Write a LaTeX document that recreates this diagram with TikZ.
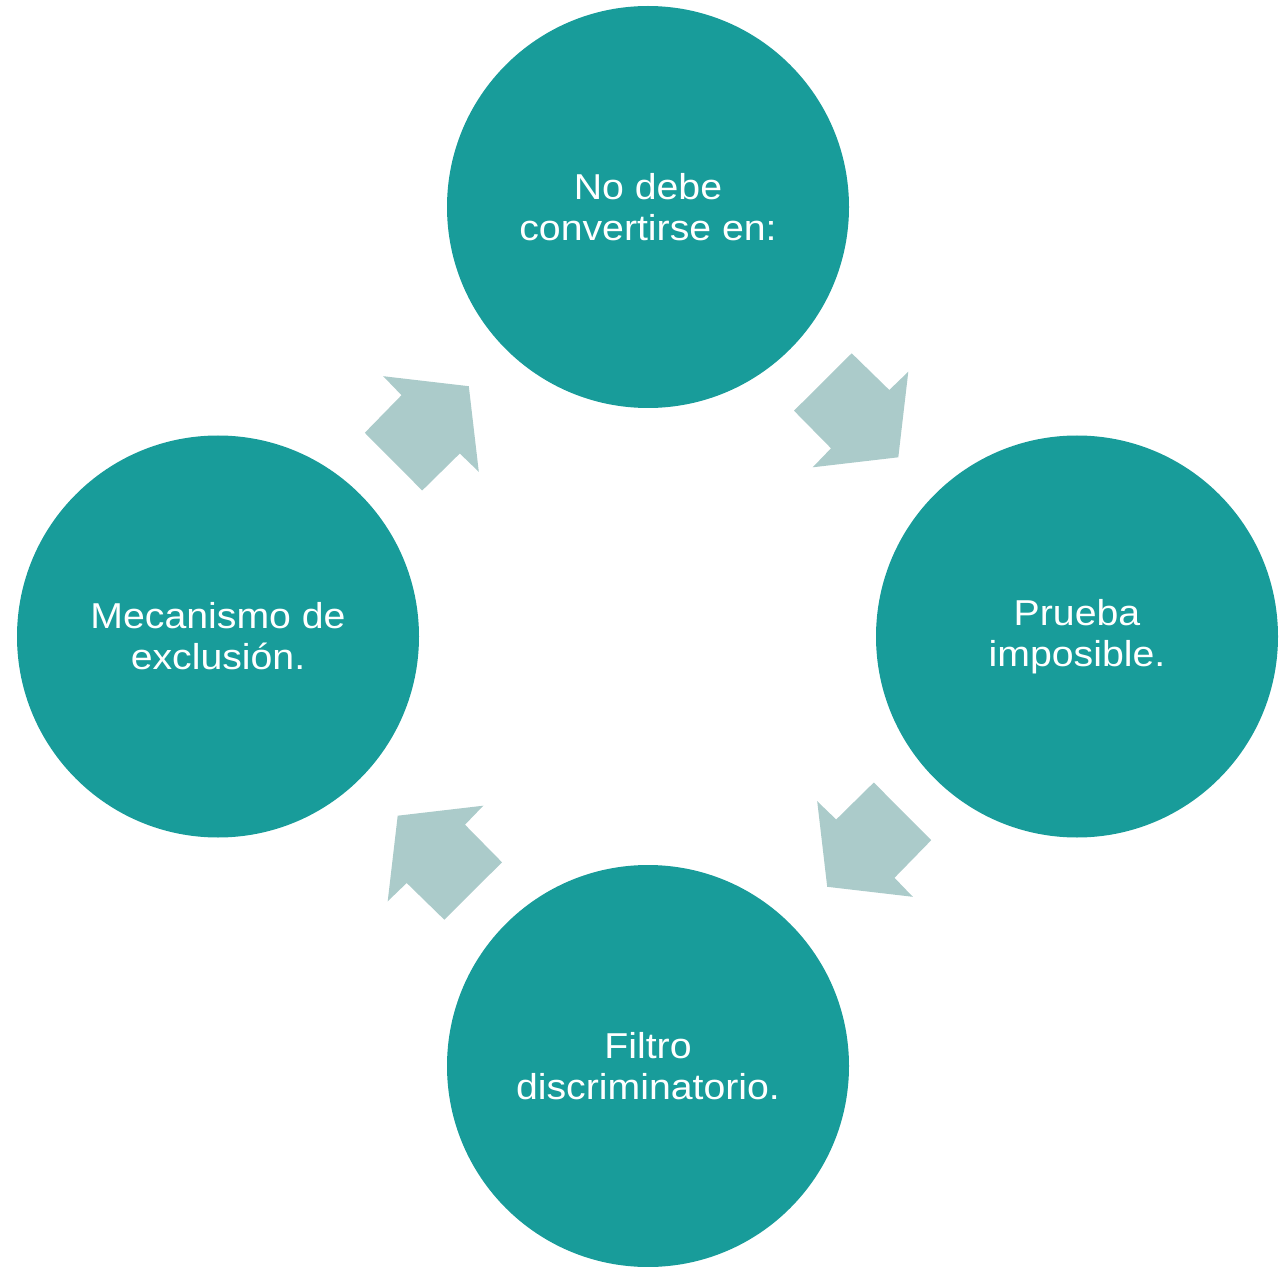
\documentclass[tikz,border=0pt]{standalone}
\usepackage{fontspec}
\setmainfont[FakeStretch=1.09]{Liberation Sans}
\definecolor{teal1}{HTML}{189C9A}
\definecolor{arrowc}{HTML}{ABCBCA}
\begin{document}
\begin{tikzpicture}[x=0.5pt,y=-0.5pt,
  stage/.style={circle, fill=teal1, minimum size=201pt, inner sep=0pt, text=white, align=center,
    font=\fontsize{18}{20.5}\selectfont},
  blockarrow/.style={fill=arrowc, draw=none}]
\useasboundingbox (0,0) rectangle (1280,1267);
\node[stage] (top) at (648,207) {No debe\\convertirse en:};
\node[stage] (right) at (1077,636.5) {Prueba\\imposible.};
\node[stage] (bottom) at (648,1066) {Filtro\\discriminatorio.};
\node[stage] (left) at (218,636.5) {Mecanismo de\\exclusión.};
\coordinate (c) at (648,636.5);
\foreach \r in {0,-90,-180,-270}{
  \begin{scope}[shift={(c)}, rotate=\r]
    \fill[blockarrow] (203.7,-283.2) -- (241.3,-246.5) -- (260.3,-264.8) -- (250.3,-179.2)
      -- (164.7,-169.2) -- (183,-188.2) -- (146,-225.8) -- cycle;
  \end{scope}
}
\end{tikzpicture}
\end{document}
